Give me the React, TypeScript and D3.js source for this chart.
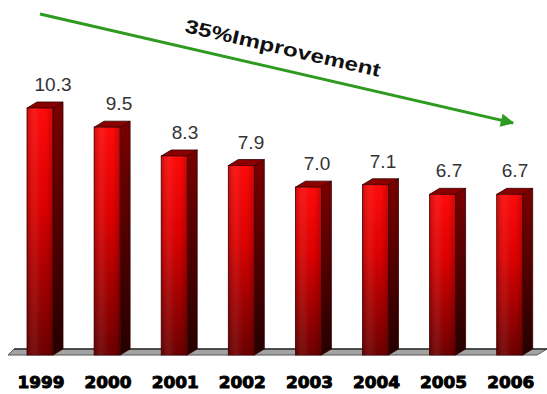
import React from "react";
import * as d3 from "d3";

const years = ["1999", "2000", "2001", "2002", "2003", "2004", "2005", "2006"];
const values = [10.3, 9.5, 8.3, 7.9, 7.0, 7.1, 6.7, 6.7];
const valueLabels = ["10.3", "9.5", "8.3", "7.9", "7.0", "7.1", "6.7", "6.7"];
const annotation = "35%Improvement";

const W = 547;
const H = 394;
const DX = 10;
const DY = -6;

export default function App() {
  const x = d3
    .scaleBand<string>()
    .domain(years)
    .range([27, 27 + 26 + 7 * 67.1])
    .paddingInner(1 - 26 / 67.1)
    .paddingOuter(0);
  const y = d3.scaleLinear().domain([0, 10.3]).range([355, 108]);
  const bw = x.bandwidth();
  const y0 = y(0);

  const floorLeft = 8;
  const floorRight = 537;
  const floorPath = `M${floorLeft},${y0} L${floorRight},${y0} L${floorRight + DX},${y0 + DY} L${floorLeft + 6},${y0 + DY} Z`;

  const arrowStart: [number, number] = [40, 14];
  const arrowEnd: [number, number] = [513, 123];
  const ang = (Math.atan2(arrowEnd[1] - arrowStart[1], arrowEnd[0] - arrowStart[0]) * 180) / Math.PI;

  return (
    <svg
      width={W}
      height={H}
      style={{ position: "absolute", left: 0, top: 0, background: "#fff" }}
      fontFamily="'Liberation Sans', Arial, sans-serif"
    >
      <defs>
        <linearGradient id="frontV" x1="0" y1="0" x2="0" y2="1">
          <stop offset="0%" stopColor="#ff0a0a" />
          <stop offset="40%" stopColor="#dd0000" />
          <stop offset="100%" stopColor="#6e0000" />
        </linearGradient>
        <linearGradient id="frontH" x1="0" y1="0" x2="1" y2="0">
          <stop offset="0%" stopColor="#000" stopOpacity={0.18} />
          <stop offset="35%" stopColor="#fff" stopOpacity={0.06} />
          <stop offset="70%" stopColor="#000" stopOpacity={0} />
          <stop offset="100%" stopColor="#000" stopOpacity={0.2} />
        </linearGradient>
        <linearGradient id="sideV" x1="0" y1="0" x2="0" y2="1">
          <stop offset="0%" stopColor="#7a0000" />
          <stop offset="100%" stopColor="#250000" />
        </linearGradient>
        <marker id="ah" viewBox="0 0 10 10" refX="9" refY="5" markerWidth="5" markerHeight="4.5" orient="auto">
          <path d="M0,0 L10,5 L0,10 Z" fill="#2f9a20" />
        </marker>
      </defs>

      <path d={floorPath} fill="#a3a3a3" stroke="#555" strokeWidth={1} />
      <line x1={floorLeft + 6} y1={y0 + DY} x2={floorRight + DX} y2={y0 + DY} stroke="#333" strokeWidth={1.5} />

      {years.map((yr, i) => {
        const bx = x(yr)!;
        const top = y(values[i]);
        const h = y0 - top;
        const side = `M${bx + bw},${top} L${bx + bw + DX},${top + DY} L${bx + bw + DX},${y0 + DY} L${bx + bw},${y0} Z`;
        const topFace = `M${bx},${top} L${bx + DX},${top + DY} L${bx + bw + DX},${top + DY} L${bx + bw},${top} Z`;
        return (
          <g key={yr}>
            <path d={side} fill="url(#sideV)" stroke="#300" strokeWidth={0.8} />
            <path d={topFace} fill="#8a0000" stroke="#300" strokeWidth={0.8} />
            <rect x={bx} y={top} width={bw} height={h} fill="url(#frontV)" stroke="#400" strokeWidth={0.8} />
            <rect x={bx} y={top} width={bw} height={h} fill="url(#frontH)" />
            <text
              x={bx + bw / 2 + 13 - 1.1 * i}
              y={top - 17}
              textAnchor="middle"
              fontSize={19}
              fill="#333"
            >
              {valueLabels[i]}
            </text>
            <text
              x={bx + bw / 2 + 1 - 23.5}
              y={388}
              fontSize={16}
              fontWeight="bold"
              fontFamily="'DejaVu Sans', sans-serif"
              fill="#000"
              stroke="#000"
              strokeWidth={0.9}
              textLength={47}
              lengthAdjust="spacingAndGlyphs"
            >
              {yr}
            </text>
          </g>
        );
      })}

      <line
        x1={arrowStart[0]}
        y1={arrowStart[1]}
        x2={arrowEnd[0]}
        y2={arrowEnd[1]}
        stroke="#2f9a20"
        strokeWidth={3}
        markerEnd="url(#ah)"
      />
      <text
        transform={`translate(184,32) rotate(${ang})`}
        fontSize={19}
        fontWeight="bold"
        fill="#111"
        textLength={200}
        lengthAdjust="spacingAndGlyphs"
      >
        {annotation}
      </text>
    </svg>
  );
}
